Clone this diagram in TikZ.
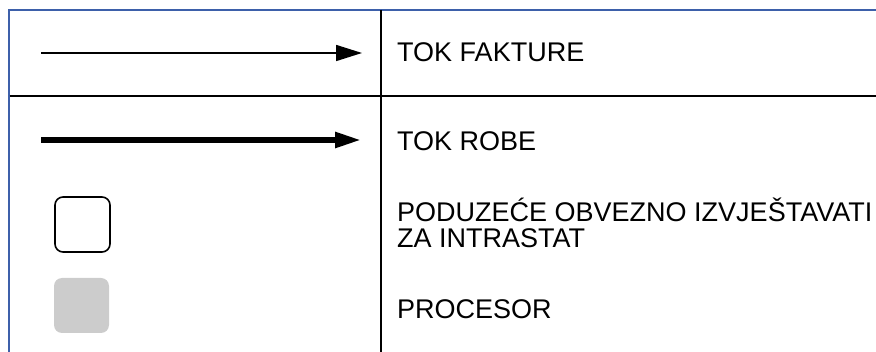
\documentclass[tikz,border=0pt]{standalone}
\usepackage{fontspec}
\setmainfont{Liberation Sans}
\usetikzlibrary{arrows.meta}
\definecolor{okvir}{RGB}{61,96,170}
\definecolor{procesor}{RGB}{204,204,204}

\begin{document}
\begin{tikzpicture}[x=1pt,y=-1pt]
\useasboundingbox (0,0) rectangle (876,352);
\tikzset{opis/.style={anchor=base west,inner sep=0pt,align=left,
  font=\fontsize{27}{26.5}\selectfont}}
\draw [okvir, line width=2.2pt] (9,352)--(9,10)--(876,10);
\draw [line width=2pt] (381,10)--(381,352);
\draw [line width=2pt] (9.5,96)--(876,96);

\coordinate (fa) at (41,53);
\coordinate (fb) at (362,53);
\coordinate (ra) at (41,140);
\coordinate (rb) at (361,140);
\draw [-{Triangle[length=26pt,width=16pt]}, line width=1.6pt] (fa)--(fb);
\draw [-{Triangle[length=26pt,width=15pt]}, line width=5.5pt] (ra)--(rb);

\filldraw [draw=black, fill=white, line width=1.6pt, rounded corners=8pt] (55,197) rectangle (110,252);
\fill [procesor, rounded corners=8pt] (54,278) rectangle (109,333);

\node [opis] (faktura) at (397,62) {TOK FAKTURE};
\node [opis] (roba) at (397,151) {TOK ROBE};
\node [opis] (poduzece) at (397,248) {PODUZEĆE OBVEZNO IZVJEŠTAVATI\\ZA INTRASTAT};
\node [opis] (proc) at (397,319) {PROCESOR};

\end{tikzpicture}
\end{document}
